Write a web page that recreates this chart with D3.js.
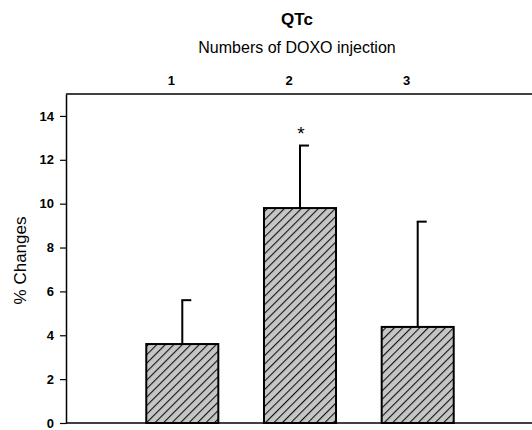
<!DOCTYPE html>
<html lang="en">
<head>
    <meta charset="UTF-8">
    <title>QTc</title>
    <script src="https://cdn.jsdelivr.net/npm/d3@7"></script>
    <style>
        body {
            margin: 0;
            padding: 0;
            background: white;
            font-family: Arial, "Liberation Sans", sans-serif;
        }
        svg { display: block; }
    </style>
</head>
<body>
    <svg id="chart" width="532" height="430"></svg>

    <script>
        // data
        const categories = ["1", "2", "3"];
        const values = [3.6, 9.8, 4.38];
        const errors = [2.0, 2.85, 4.8];
        const marks = ["", "*", ""];
        const yTicks = [0, 2, 4, 6, 8, 10, 12, 14];

        const svg = d3.select("#chart");
        const width = 532, height = 430;
        const margin = { top: 94, right: -2, bottom: 7, left: 66 };

        const x = d3.scaleBand()
            .domain(categories)
            .range([margin.left, width - margin.right])
            .paddingInner(0.388)
            .paddingOuter(0.682);

        const y = d3.scaleLinear()
            .domain([0, 15])
            .range([height - margin.bottom, margin.top]);

        // hatch pattern
        const defs = svg.append("defs");
        const pat = defs.append("pattern")
            .attr("id", "hatch")
            .attr("patternUnits", "userSpaceOnUse")
            .attr("width", 6)
            .attr("height", 6)
            .attr("patternTransform", "rotate(45)");
        pat.append("rect").attr("width", 6).attr("height", 6).attr("fill", "#c6c6c6");
        pat.append("line")
            .attr("x1", 0).attr("y1", 0).attr("x2", 0).attr("y2", 6)
            .attr("stroke", "#111").attr("stroke-width", 2.2);

        // titles
        svg.append("text")
            .attr("x", 297).attr("y", 25)
            .attr("text-anchor", "middle")
            .attr("font-weight", "bold")
            .attr("font-size", 17)
            .text("QTc");

        svg.append("text")
            .attr("x", 297).attr("y", 53)
            .attr("text-anchor", "middle")
            .attr("font-size", 16)
            .text("Numbers of DOXO injection");

        svg.append("text")
            .attr("transform", `translate(26,${(y(0) + y(15)) / 2 + 2}) rotate(-90)`)
            .attr("text-anchor", "middle")
            .attr("font-size", 17)
            .text("% Changes");

        // top category labels
        svg.append("g")
            .selectAll("text")
            .data(categories)
            .join("text")
            .attr("x", d => x(d) + x.bandwidth() / 2 - 11)
            .attr("y", 85)
            .attr("text-anchor", "middle")
            .attr("font-size", 13)
            .attr("font-weight", "bold")
            .text(d => d);

        // y axis
        const yAxis = svg.append("g")
            .attr("transform", `translate(${margin.left},0)`)
            .call(d3.axisLeft(y).tickValues(yTicks).tickSize(6).tickPadding(6).tickSizeOuter(0));
        yAxis.select(".domain").attr("stroke", "#000").attr("stroke-width", 1.5);
        yAxis.selectAll(".tick line").attr("stroke", "#000").attr("stroke-width", 1.2);
        yAxis.selectAll(".tick text")
            .attr("font-size", 13)
            .attr("font-weight", "bold")
            .attr("font-family", "Arial, 'Liberation Sans', sans-serif")
            .attr("fill", "#000");

        // frame top and bottom
        svg.append("line")
            .attr("x1", margin.left).attr("x2", width)
            .attr("y1", y(15)).attr("y2", y(15))
            .attr("stroke", "#000").attr("stroke-width", 1.5);
        svg.append("line")
            .attr("x1", margin.left).attr("x2", width)
            .attr("y1", y(0)).attr("y2", y(0))
            .attr("stroke", "#000").attr("stroke-width", 1.5);

        // error bars
        const eb = svg.append("g");
        categories.forEach((c, i) => {
            const cx = x(c) + x.bandwidth() / 2;
            eb.append("line")
                .attr("x1", cx).attr("x2", cx)
                .attr("y1", y(values[i])).attr("y2", y(values[i] + errors[i]))
                .attr("stroke", "#000").attr("stroke-width", 2);
            eb.append("line")
                .attr("x1", cx - 1).attr("x2", cx + 9)
                .attr("y1", y(values[i] + errors[i])).attr("y2", y(values[i] + errors[i]))
                .attr("stroke", "#000").attr("stroke-width", 2);
            if (marks[i]) {
                eb.append("text")
                    .attr("x", cx + 1)
                    .attr("y", y(values[i] + errors[i]) - 6)
                    .attr("text-anchor", "middle")
                    .attr("font-size", 19)
                    .text(marks[i]);
            }
        });

        // bars
        svg.append("g")
            .selectAll("rect")
            .data(categories)
            .join("rect")
            .attr("x", d => x(d))
            .attr("y", (d, i) => y(values[i]))
            .attr("width", x.bandwidth())
            .attr("height", (d, i) => y(0) - y(values[i]))
            .attr("fill", "url(#hatch)")
            .attr("stroke", "#000")
            .attr("stroke-width", 2);
    </script>
</body>
</html>
